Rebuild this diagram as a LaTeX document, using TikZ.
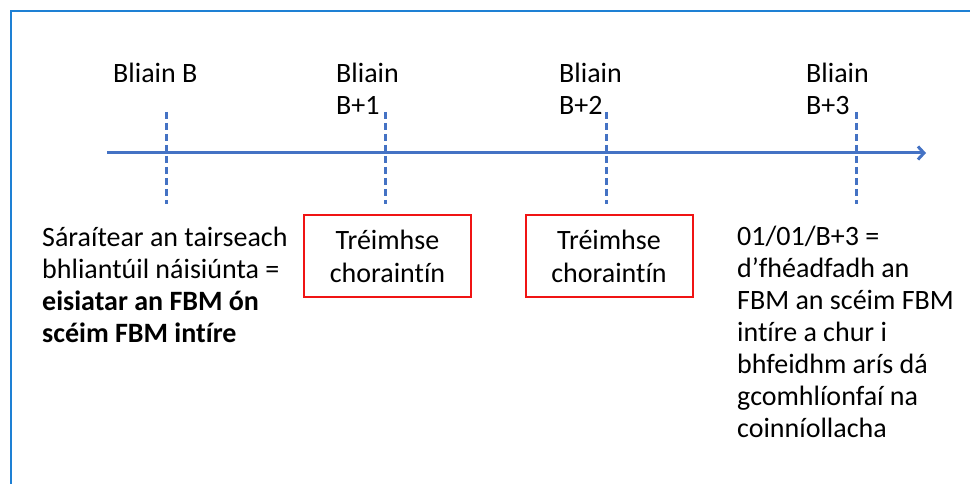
\documentclass[tikz,border=0pt]{standalone}
\usepackage{fontspec}
\setmainfont{Carlito}[RawFeature=-liga]
\usetikzlibrary{arrows.meta}
\definecolor{framec}{RGB}{30,128,212}
\definecolor{axisc}{RGB}{68,114,196}
\definecolor{boxred}{RGB}{240,20,20}
\begin{document}
\begin{tikzpicture}[x=1pt,y=-1pt,
  txt/.style={font=\fontsize{28}{32}\selectfont, inner sep=0pt, align=left, anchor=base west, text=black},
  redbox/.style={draw=boxred, line width=2pt, minimum width=167pt, minimum height=82pt, inner sep=0pt, align=center, font=\fontsize{28}{33}\selectfont},
  tickline/.style={draw=axisc, line width=3pt, dash pattern=on 7pt off 4pt},
  axisline/.style={draw=axisc, line width=3pt, -{Straight Barb[length=6pt,width=13pt,line width=3pt]}}]
\useasboundingbox (0,0) rectangle (970,484);
\fill[white] (0,0) rectangle (970,484);
% frame
\draw[framec, line width=2pt] (11,490) -- (11,11) -- (980,11);
% axis
\coordinate (axs) at (107,153);
\coordinate (axe) at (926,153);
\draw[axisline] (axs) -- (axe);
% ticks
\coordinate (t0a) at (166,112); \coordinate (t0b) at (166,204);
\coordinate (t1a) at (385,112); \coordinate (t1b) at (385,204);
\coordinate (t2a) at (606,112); \coordinate (t2b) at (606,204);
\coordinate (t3a) at (856,112); \coordinate (t3b) at (856,204);
\draw[tickline] (t0a) -- (t0b);
\draw[tickline] (t1a) -- (t1b);
\draw[tickline] (t2a) -- (t2b);
\draw[tickline] (t3a) -- (t3b);
% year labels (anchor = baseline of last line)
\node[txt] (y0) at (113,83) {Bliain B};
\node[txt] (y1) at (336,115) {Bliain\\B+1};
\node[txt] (y2) at (559,115) {Bliain\\B+2};
\node[txt] (y3) at (806,115) {Bliain\\B+3};
% boxes
\node[redbox] (q1) at (387.5,256) {Tréimhse\\choraintín};
\node[redbox] (q2) at (609,256) {Tréimhse\\choraintín};
% texts
\node[txt] (left) at (42,342) {Sáraítear an tairseach\\bhliantúil náisiúnta =\\\textbf{eisiatar an FBM ón}\\\textbf{scéim FBM intíre}};
\node[txt] (right) at (737,437) {01/01/B+3 =\\d’fhéadfadh an\\FBM an scéim FBM\\intíre a chur i\\bhfeidhm arís dá\\gcomhlíonfaí na\\coinníollacha};
\end{tikzpicture}
\end{document}
